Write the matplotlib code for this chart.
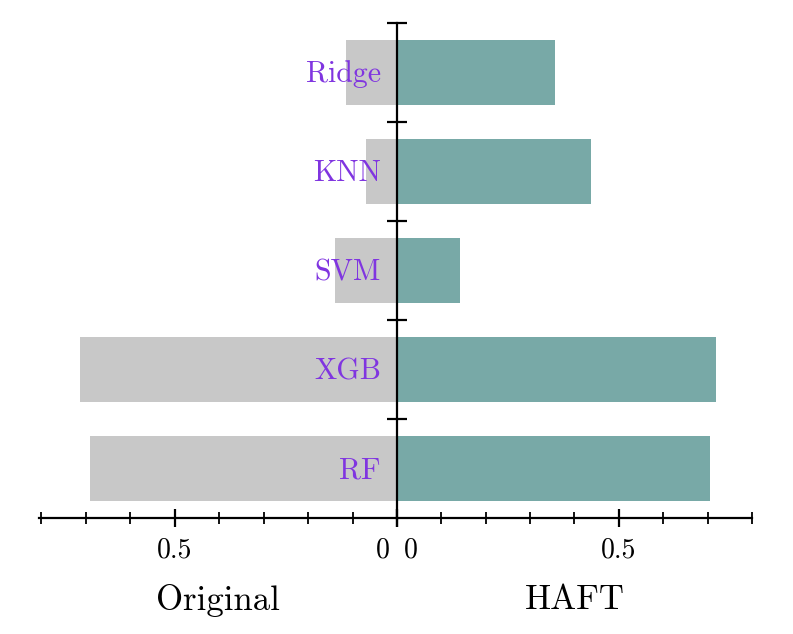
import numpy as np
import matplotlib
matplotlib.use('Agg')
import matplotlib.pyplot as plt
from matplotlib.ticker import MultipleLocator

# Data (bottom to top)
models = ['RF', 'XGB', 'SVM', 'KNN', 'Ridge']
original = [0.690, 0.712, 0.139, 0.070, 0.115]
haft = [0.706, 0.719, 0.142, 0.438, 0.357]

plt.rcParams['font.family'] = 'serif'
plt.rcParams['font.serif'] = ['cmr10']
plt.rcParams['mathtext.fontset'] = 'cm'
plt.rcParams['axes.unicode_minus'] = False

fig = plt.figure(figsize=(7.93, 6.34), dpi=100)
ax_l = fig.add_axes([0.0492, 0.183, 0.4514, 0.781])
ax_r = fig.add_axes([0.5006, 0.183, 0.4477, 0.781])

y = np.arange(len(models))
ax_l.barh(y, original, height=0.65, color='#c8c8c8')
ax_r.barh(y, haft, height=0.65, color='#78a9a7')

ax_l.set_xlim(0.805, 0)
ax_r.set_xlim(0, 0.8)

for ax in (ax_l, ax_r):
    ax.set_ylim(-0.5, 4.5)
    ax.spines['top'].set_visible(False)
    ax.spines['right'].set_visible(False)
    ax.spines['bottom'].set_linewidth(1.6)
    ax.set_xticks([0, 0.5], ['', '0.5'])
    ax.xaxis.set_minor_locator(MultipleLocator(0.1))
    ax.tick_params(axis='x', which='major', direction='inout', length=13,
                   width=1.6, labelsize=20, pad=7)
    ax.tick_params(axis='x', which='minor', direction='inout', length=8,
                   width=1.3)
    # separate "0" for each half, nudged away from the centre line
    ax.annotate('0', xy=(0, 0), xycoords=('data', 'axes fraction'),
                xytext=(-10 if ax is ax_l else 10, -13.5), textcoords='offset points',
                ha='center', va='top', fontsize=20)

ax_l.spines['left'].set_visible(False)
ax_l.set_yticks([])

ax_r.spines['left'].set_linewidth(1.6)
ax_r.set_yticks(np.arange(0.5, 5, 1), [''] * 5)
ax_r.tick_params(axis='y', direction='inout', length=14, width=1.6)

for i, name in enumerate(models):
    ax_l.text(0.036, i - 0.1, name, ha='right', va='baseline', color='#8035e0',
              fontsize=21.5, zorder=5)

ax_l.set_xlabel('Original', fontsize=25, labelpad=15)
ax_r.set_xlabel('HAFT', fontsize=25, labelpad=15)

fig.savefig('out.png', dpi=100)
